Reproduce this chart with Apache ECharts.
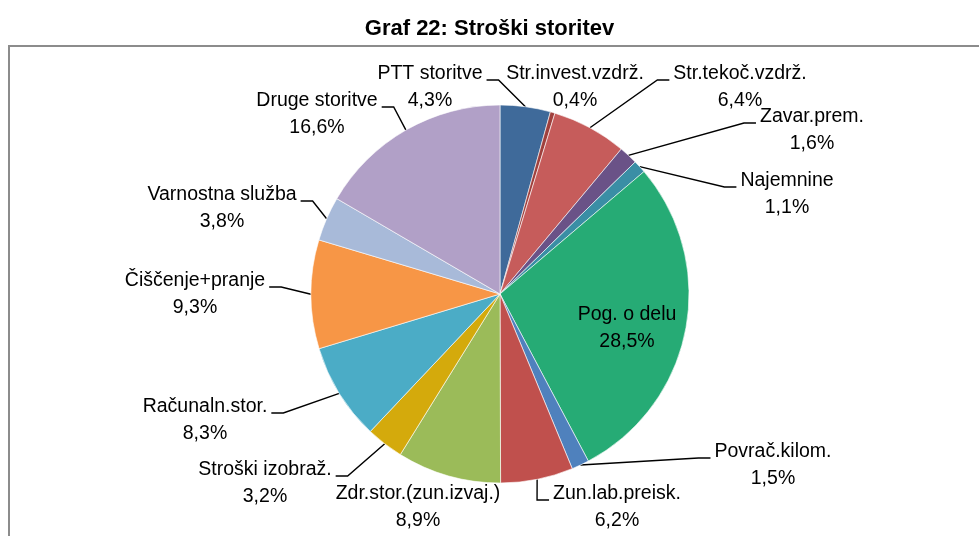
<!DOCTYPE html>
<html>
<head>
<meta charset="utf-8">
<script src="https://cdn.jsdelivr.net/npm/echarts@6/dist/echarts.min.js"></script>
<style>
  html, body { margin: 0; padding: 0; background: #fff; }
  #chart { width: 979px; height: 536px; }
</style>
</head>
<body>
<div id="chart"></div>
<script>
// ----------data----------
const categories = [
  'PTT storitve', 'Str.invest.vzdrž.', 'Str.tekoč.vzdrž.', 'Zavar.prem.', 'Najemnine',
  'Pog. o delu', 'Povrač.kilom.', 'Zun.lab.preisk.', 'Zdr.stor.(zun.izvaj.)', 'Stroški izobraž.',
  'Računaln.stor.', 'Čiščenje+pranje', 'Varnostna služba', 'Druge storitve'
];
const shares = [4.3, 0.4, 6.4, 1.6, 1.1, 28.5, 1.5, 6.2, 8.9, 3.2, 8.3, 9.3, 3.8, 16.6];
const sliceColors = [
  '#3f6a9a', '#a0403d', '#c65c5b', '#6a5287', '#3a8ea5',
  '#26ab75', '#4f81bd', '#c0504d', '#9bbb59', '#d4aa0c',
  '#4bacc6', '#f79646', '#a8bad9', '#b1a0c7'
];
// ------------------------

// ----------layout----------
const FONT = "'Liberation Sans', Arial, sans-serif";
const pieCenter = [500, 294];
// label block centres, one per slice
const labelAt = [
  [430, 87], [575, 87], [740, 87], [812, 130], [787, 194],
  [627, 328], [773, 465], [617, 507], [418, 507], [265, 483],
  [205, 420], [195, 294], [222, 208], [317, 114]
];
const noLine = [1, 5, 8]; // slices without a leader line
// ---------------------------

const chart = echarts.init(document.getElementById('chart'));

const fmt = (v) => v.toFixed(1).replace('.', ',') + '%';

const option = {
  animation: false,
  backgroundColor: '#fff',
  title: {
    text: 'Graf 22: Stroški storitev',
    left: 'center',
    top: 9,
    textStyle: {
      fontFamily: FONT,
      fontSize: 22,
      fontWeight: 'bold',
      color: '#000',
      lineHeight: 30
    }
  },
  graphic: [
    {
      type: 'rect',
      silent: true,
      shape: { x: 9, y: 46, width: 1000, height: 600 },
      style: { fill: 'none', stroke: '#8c8c8c', lineWidth: 2 }
    }
  ],
  series: [
    {
      type: 'pie',
      center: pieCenter,
      radius: 189,
      startAngle: 90,
      clockwise: true,
      avoidLabelOverlap: false,
      emphasis: { disabled: true },
      itemStyle: { borderColor: '#fff', borderWidth: 0.6 },
      label: {
        show: true,
        position: 'outside',
        color: '#000',
        fontFamily: FONT,
        fontSize: 19.5,
        lineHeight: 27,
        formatter: (p) => p.name + '\n' + fmt(p.value)
      },
      labelLine: {
        show: true,
        length: 10,
        length2: 10,
        lineStyle: { color: '#000', width: 1.4 }
      },
      labelLayout: function (p) {
        const pos = labelAt[p.dataIndex];
        if (!pos) return {};
        const out = { x: pos[0], y: pos[1], align: 'center', verticalAlign: 'middle' };
        if (noLine.indexOf(p.dataIndex) < 0 && p.labelLinePoints) {
          const start = p.labelLinePoints[0];
          const onRight = pos[0] > start[0];
          const half = p.labelRect.width / 2;
          const ly = pos[1] - 7;
          const endX = onRight ? pos[0] - half - 4 : pos[0] + half + 4;
          const elbowX = onRight ? endX - 12 : endX + 12;
          out.labelLinePoints = [start, [elbowX, ly], [endX, ly]];
        }
        return out;
      },
      data: categories.map((name, i) => ({
        name: name,
        value: shares[i],
        itemStyle: { color: sliceColors[i] },
        label: i === 5 ? { position: 'inside', color: '#000' } : undefined,
        labelLine: noLine.indexOf(i) >= 0 ? { show: false } : undefined
      }))
    }
  ]
};

chart.setOption(option);
</script>
</body>
</html>
